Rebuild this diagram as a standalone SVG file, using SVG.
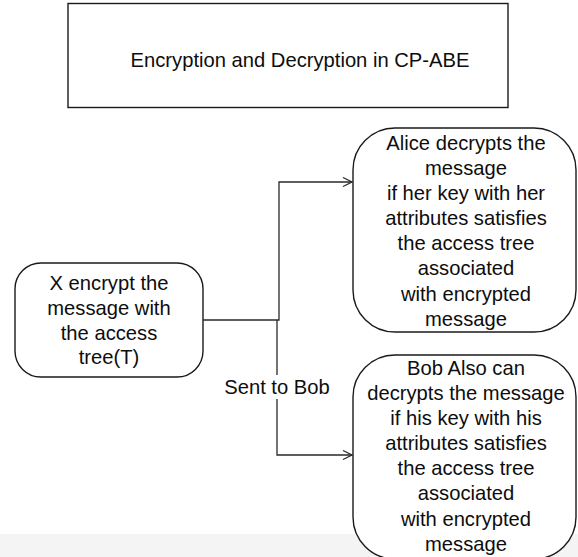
<svg xmlns="http://www.w3.org/2000/svg" width="578" height="557" viewBox="0 0 578 557">
  <defs>
    <style>
      .box { fill: none; stroke: #1a1a1a; stroke-width: 1.4; }
      .node { fill: #ffffff; stroke: #1a1a1a; stroke-width: 1.4; }
      .wire { fill: none; stroke: #2a2a2a; stroke-width: 1.3; }
      .txt { font-family: "Liberation Sans", Arial, Helvetica, sans-serif; font-size: 20.2px; fill: #0d0d0d; text-anchor: middle; }
    </style>
    <marker id="open-arrow" markerWidth="12" markerHeight="12" refX="10" refY="6" orient="auto" markerUnits="userSpaceOnUse">
      <path d="M1,1.5 L10,6 L1,10.5" fill="none" stroke="#2a2a2a" stroke-width="1.3"/>
    </marker>
  </defs>

  <rect x="0" y="0" width="578" height="557" fill="#ffffff"/>
  <rect x="0" y="534" width="578" height="23" fill="#f4f4f4"/>

  <!-- title frame -->
  <g id="title">
    <rect class="box" x="68" y="3.5" width="440" height="104"/>
    <text class="txt" x="300" y="67">Encryption and Decryption in CP-ABE</text>
  </g>

  <!-- connectors -->
  <g id="connectors">
    <polyline class="wire" points="203,320 279,320 279,182 352,182" marker-end="url(#open-arrow)"/>
    <polyline class="wire" points="277,320 277,455 352,455" marker-end="url(#open-arrow)"/>
    <rect x="222" y="375" width="110" height="24" fill="#ffffff"/>
    <text class="txt" x="277" y="394">Sent to Bob</text>
  </g>

  <!-- sender -->
  <g id="sender">
    <rect class="node" x="15" y="263" width="188" height="114" rx="26" ry="26"/>
    <text class="txt" x="109" y="290">X encrypt the</text>
    <text class="txt" x="109" y="315">message with</text>
    <text class="txt" x="109" y="340">the access</text>
    <text class="txt" x="109" y="364">tree(T)</text>
  </g>

  <!-- receiver: Alice -->
  <g id="alice">
    <rect class="node" x="353" y="128" width="223" height="204" rx="42" ry="42"/>
    <text class="txt" x="466" y="150">Alice decrypts the</text>
    <text class="txt" x="466" y="175">message</text>
    <text class="txt" x="466" y="200">if her key with her</text>
    <text class="txt" x="466" y="225">attributes satisfies</text>
    <text class="txt" x="466" y="250">the access tree</text>
    <text class="txt" x="466" y="275">associated</text>
    <text class="txt" x="466" y="301">with encrypted</text>
    <text class="txt" x="466" y="326">message</text>
  </g>

  <!-- receiver: Bob -->
  <g id="bob">
    <rect class="node" x="353" y="355" width="223" height="204" rx="42" ry="42" fill="none"/>
    <text class="txt" x="466" y="375">Bob Also can</text>
    <text class="txt" x="466" y="400">decrypts the message</text>
    <text class="txt" x="466" y="425">if his key with his</text>
    <text class="txt" x="466" y="450">attributes satisfies</text>
    <text class="txt" x="466" y="475">the access tree</text>
    <text class="txt" x="466" y="500">associated</text>
    <text class="txt" x="466" y="526">with encrypted</text>
    <text class="txt" x="466" y="551">message</text>
  </g>
</svg>
